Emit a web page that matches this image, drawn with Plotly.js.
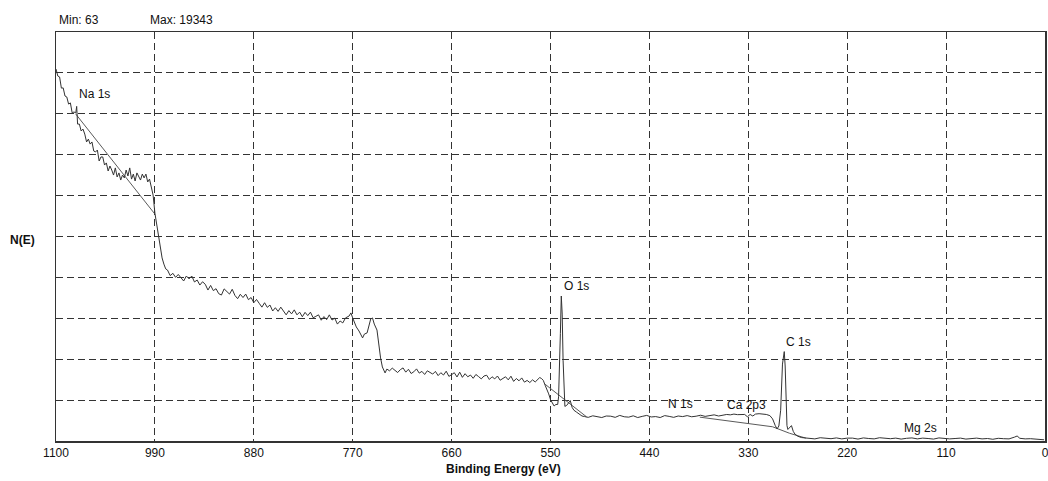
<!DOCTYPE html>
<html>
<head>
<meta charset="utf-8">
<script src="https://cdn.plot.ly/plotly-3.0.1.min.js"></script>
<style>html,body{margin:0;padding:0;background:#fff;}#chart{width:1048px;height:481px;}</style>
</head>
<body>
<div id="chart"></div>
<script>
// Binding energy (eV) and counts of the survey spectrum
const energy = [
1100,1098,1096,1094,1092,1090,1088,1086,1084,1082,1080,1078,1077,1076,1074,1072,1070,1068,1066,1064,
1062,1060,1058,1056,1054,1052,1050,1048,1046,1044,1042,1040,1038,1036,1034,1032,1030,1028,1026,1024,
1022,1020,1018,1016,1014,1012,1010,1008,1006,1004,1002,1000,998,996,994,992,990,988,986,984,
982,980,978,976,973,970,967,964,961,958,955,952,949,946,943,940,937,934,931,928,
925,922,919,916,913,910,907,904,901,898,895,892,889,886,883,880,877,874,871,868,
865,862,859,856,853,850,847,844,841,838,835,832,829,826,823,820,817,814,811,808,
805,802,799,796,793,790,787,784,781,778,774,772,770,768,766,763,761,759,757,754,
752,750,748,746,743,741,739,737,734,732,729,726,723,720,717,714,711,708,705,702,
699,696,693,690,687,684,681,678,675,672,669,666,663,660,657,654,651,648,645,642,
639,636,633,630,627,624,621,618,615,612,609,606,603,600,597,594,591,588,585,582,
579,576,573,570,567,564,562,560,558,556,554,552,550,548,546,544,542,541,540,539,
538,537,536,535,534,532,530,528,526,524,521,518,515,512,508,503,498,493,488,483,
478,473,468,463,458,453,448,443,438,433,428,423,418,413,408,403,398,393,388,383,
378,373,368,363,358,354,350,346,342,338,334,331,328,325,322,318,314,310,306,303,
300,298,296,294,292,291,290,289,288,287,286,284,282,280,278,275,271,267,262,256,
250,244,238,232,226,220,214,208,202,196,190,184,178,172,166,160,154,148,142,136,
130,124,118,112,106,100,94,88,82,76,70,64,58,52,46,40,34,31,28,22,
16,10,6,3,1
];
const counts = [
19343,18980,18930,18350,18360,17940,17890,17520,17580,17060,17110,17060,17400,16480,16480,16120,16220,15960,15550,15700,
15440,15550,15080,15030,15130,14560,14770,14770,14350,14460,14040,14300,14090,13830,14200,13730,13940,13570,13830,13680,
14090,13780,14200,13620,13880,13520,13940,13780,13570,13880,13680,13880,13470,13620,13100,12790,11850,11280,10600,10090,
9520,9200,8950,8890,8600,8720,8510,8660,8490,8320,8580,8430,8580,8270,8370,8110,8280,8150,7850,8090,
7820,7920,7660,7590,7910,7750,7640,7890,7570,7400,7630,7460,7640,7350,7460,7190,7360,7160,6960,7190,
6950,7070,6760,6930,6740,6960,6760,6560,6780,6610,6820,6560,6700,6460,6690,6520,6700,6410,6480,6560,
6280,6470,6310,6560,6290,6390,6080,6240,6140,6400,6500,6660,6400,6140,5930,5720,5510,5360,5560,5620,
5980,6340,6400,6080,5770,4990,4320,3850,3540,3740,3650,3790,3680,3560,3710,3800,3580,3730,3510,3600,
3750,3530,3620,3460,3650,3540,3480,3620,3400,3550,3430,3630,3360,3450,3550,3330,3580,3310,3500,3340,
3430,3260,3460,3350,3230,3380,3420,3200,3340,3230,3380,3160,3250,3340,3180,3370,3100,3250,3130,3280,
3060,3150,3040,3180,3070,3210,3300,3250,3150,2900,2700,2450,2150,1980,1820,1900,1900,2300,3600,5600,
7540,6600,4200,2200,1800,1850,2000,2100,1750,1600,1500,1400,1300,1270,1230,1310,1270,1220,1300,1290,
1230,1330,1260,1240,1310,1220,1280,1330,1250,1270,1220,1320,1280,1230,1300,1270,1320,1260,1290,1340,
1280,1310,1360,1300,1340,1380,1360,1400,1370,1390,1380,1260,1380,1300,1400,1420,1400,1380,1320,1150,
800,630,780,1600,4000,4300,4650,3900,2200,800,600,700,800,500,350,250,180,160,140,110,
170,130,120,160,110,150,150,100,160,130,110,170,130,120,150,100,140,160,110,150,
130,100,160,140,110,130,150,100,120,150,110,130,90,140,120,110,200,260,140,110,
120,90,70,63,63
];

// Background lines drawn under the peaks
const naBgEnergy = [1078, 990];
const naBgCounts = [17000, 11800];
const oBgEnergy = [556, 510];
const oBgCounts = [2950, 1260];
const cBgEnergy = [384, 303, 284, 266];
const cBgCounts = [1240, 740, 400, 150];

// Peak labels
const peakNames = ["Na 1s", "O 1s", "C 1s", "N 1s", "Ca 2p3", "Mg 2s"];
const peakEnergy = [1076.7, 536.7, 290, 421, 355.6, 158.9];
const peakLabelCounts = [18044, 8060, 5148, 1924, 1872, 676];

const tickValues = [1100, 990, 880, 770, 660, 550, 440, 330, 220, 110, 0];
const minCount = 63, maxCount = 19343;

const font = "Liberation Sans, Arial, sans-serif";
const traces = [
  {x: naBgEnergy, y: naBgCounts, mode: "lines", line: {color: "#5a5a5a", width: 1}, hoverinfo: "skip"},
  {x: oBgEnergy, y: oBgCounts, mode: "lines", line: {color: "#5a5a5a", width: 1}, hoverinfo: "skip"},
  {x: cBgEnergy, y: cBgCounts, mode: "lines", line: {color: "#5a5a5a", width: 1}, hoverinfo: "skip"},
  {x: energy, y: counts, mode: "lines", line: {color: "#333", width: 1}}
];

const annotations = peakNames.map((n, i) => ({
  x: peakEnergy[i], y: peakLabelCounts[i], xref: "x", yref: "y", text: n,
  showarrow: false, xanchor: "left", yanchor: "middle",
  font: {family: font, size: 12, color: "#111"}
}));
annotations.push(
  {x: 0.001, y: 1.029, xref: "paper", yref: "paper", text: "Min: " + minCount, showarrow: false,
   xanchor: "left", yanchor: "middle", font: {family: font, size: 12, color: "#111"}},
  {x: 0.093, y: 1.029, xref: "paper", yref: "paper", text: "Max: " + maxCount, showarrow: false,
   xanchor: "left", yanchor: "middle", font: {family: font, size: 12, color: "#111"}},
  {x: -0.0334, y: 0.491, xref: "paper", yref: "paper", text: "<b>N(E)</b>", showarrow: false,
   xanchor: "center", yanchor: "middle", font: {family: font, size: 12, color: "#111"}},
  {x: 0.452, y: -0.0685, xref: "paper", yref: "paper", text: "<b>Binding Energy (eV)</b>", showarrow: false,
   xanchor: "center", yanchor: "middle", font: {family: font, size: 12, color: "#111"}}
);

const layout = {
  width: 1048, height: 481,
  margin: {l: 56, r: 3, t: 32, b: 40},
  paper_bgcolor: "#fff", plot_bgcolor: "#fff",
  showlegend: false,
  xaxis: {
    range: [1100, 0], tickvals: tickValues, ticktext: tickValues.map(String),
    showgrid: true, gridcolor: "#333", griddash: "7px,4px", gridwidth: 1,
    zeroline: false, showline: true, linecolor: "#333", linewidth: 1.5, mirror: true,
    ticks: "", ticklabeloverflow: "allow", tickfont: {family: font, size: 12, color: "#111"}
  },
  yaxis: {
    range: [0, 21268], tick0: 0, dtick: 2126.8,
    showgrid: true, gridcolor: "#333", griddash: "7px,4px", gridwidth: 1,
    zeroline: false, showline: true, linecolor: "#333", linewidth: 1.5, mirror: true,
    showticklabels: false, ticks: ""
  },
  annotations: annotations
};

Plotly.newPlot("chart", traces, layout, {staticPlot: true, displayModeBar: false});
</script>
</body>
</html>
